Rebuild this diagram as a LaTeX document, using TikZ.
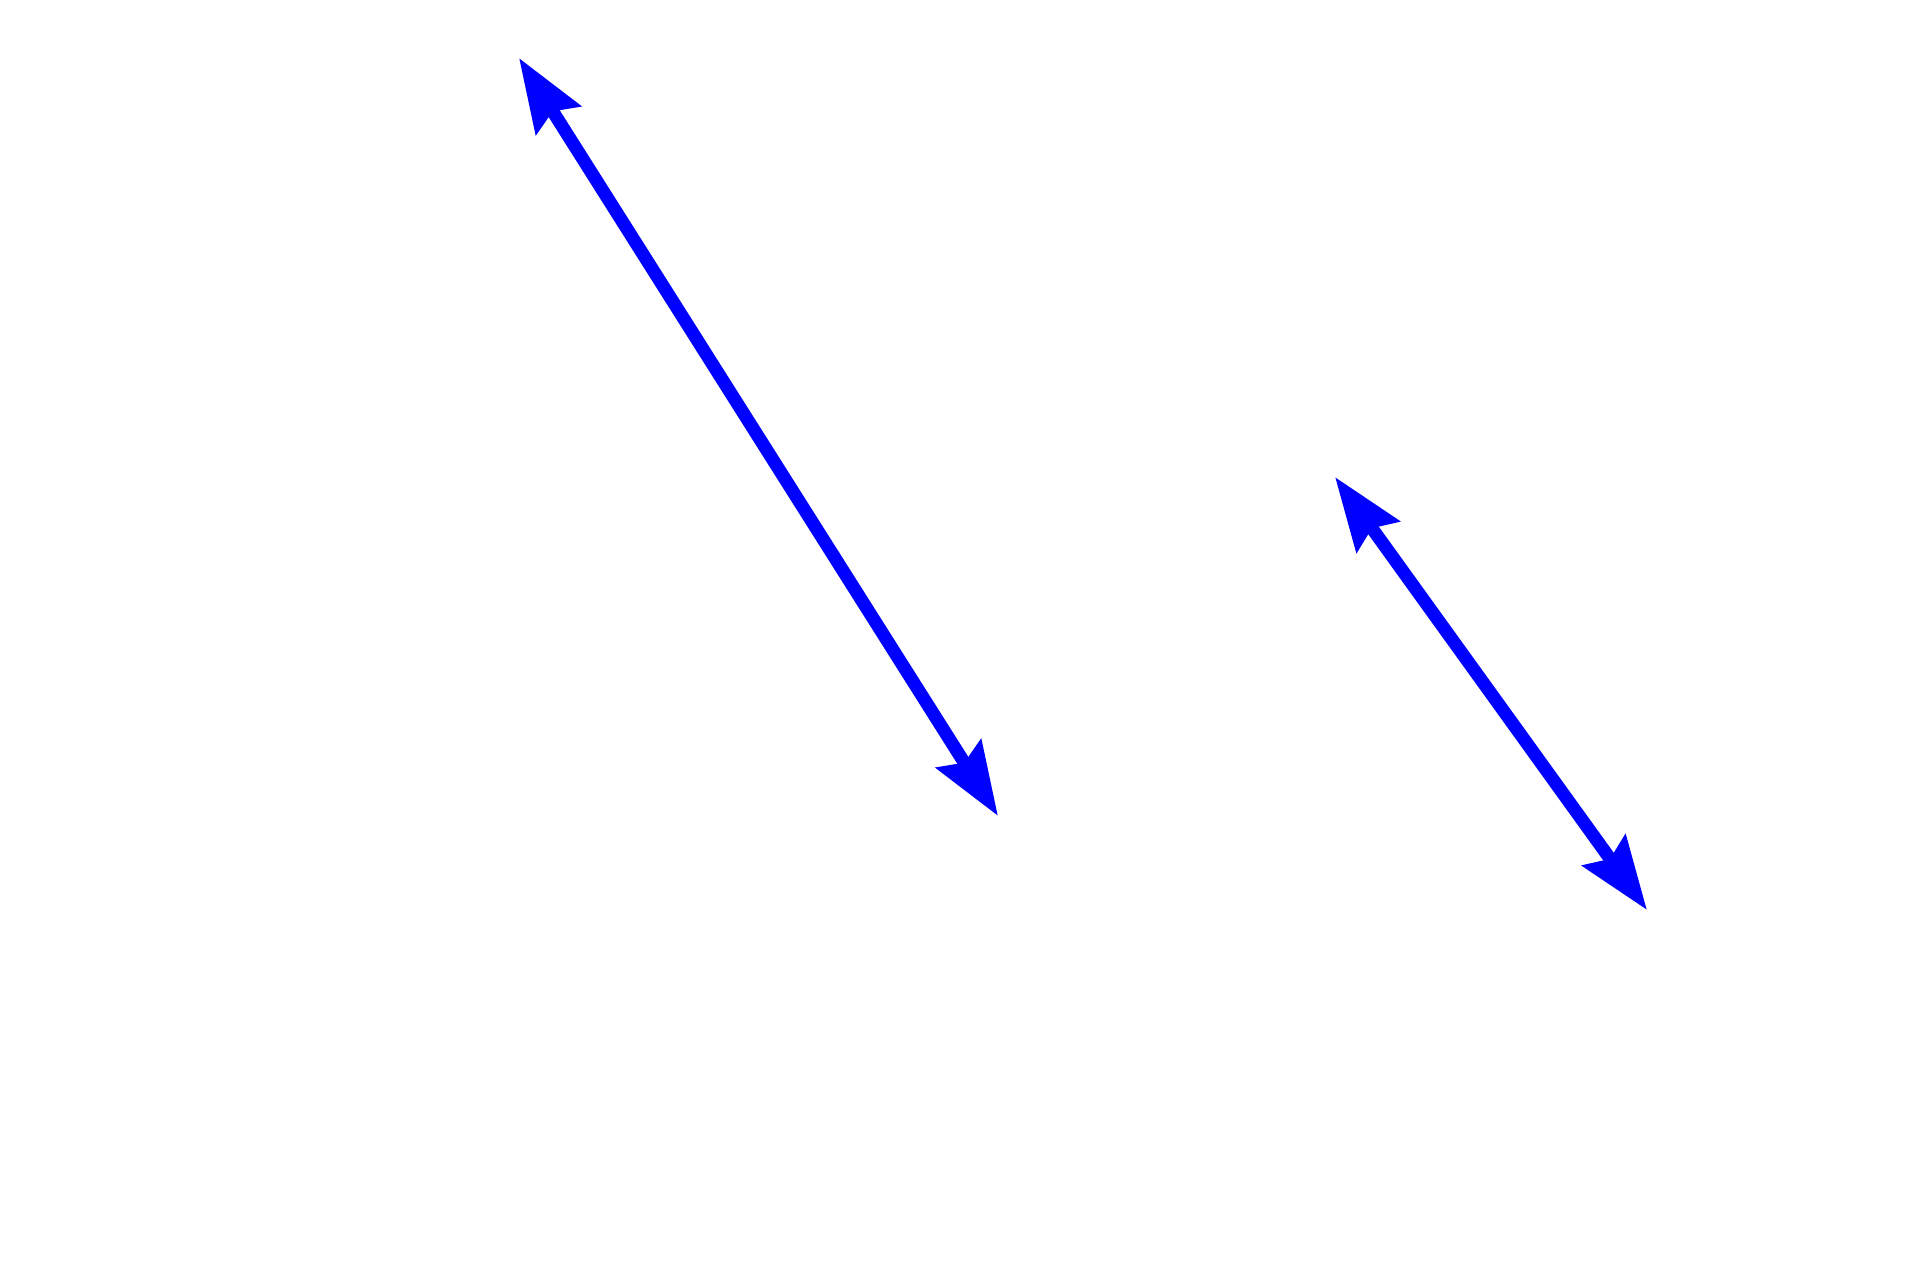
\documentclass[tikz,border=0pt]{standalone}
\usetikzlibrary{arrows.meta}
\definecolor{arrowblue}{RGB}{0,0,255}
\tikzset{
  twoway/.style={arrowblue, line width=0.26cm,
    {Stealth[length=1.46cm, width=1.04cm, inset=0.2cm]}-{Stealth[length=1.46cm, width=1.04cm, inset=0.2cm]}}
}
\begin{document}
\begin{tikzpicture}[x=0.02cm, y=-0.02cm]
\useasboundingbox (0,0) rectangle (1920,1280);
% long arrow
\coordinate (longtop) at (519,58);
\coordinate (longbot) at (998,816);
% short arrow
\coordinate (shorttop) at (1335,477);
\coordinate (shortbot) at (1647,910);
\draw[twoway] (longtop) -- (longbot);
\draw[twoway] (shorttop) -- (shortbot);
\end{tikzpicture}
\end{document}
